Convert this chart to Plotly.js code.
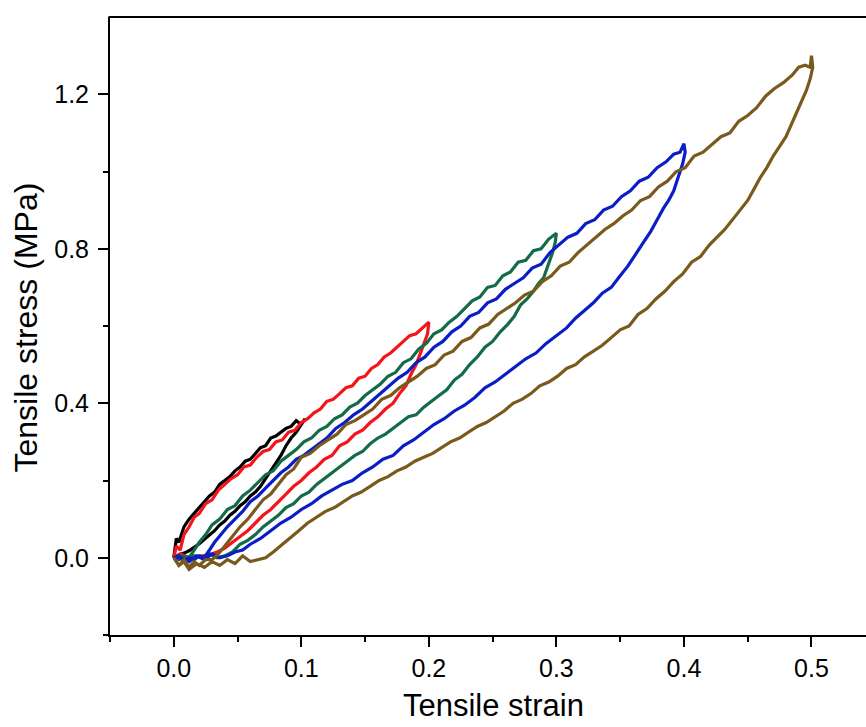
<!DOCTYPE html>
<html>
<head>
<meta charset="utf-8">
<script src="https://cdn.plot.ly/plotly-3.0.1.min.js"></script>
<style>html,body{margin:0;padding:0;background:#fff;}#chart{width:866px;height:727px;}</style>
</head>
<body>
<div id="chart"></div>
<script>
// ---- Data (strain, stress in MPa) ----
// Black loop (max strain 0.1): loading then unloading
const blackX = [0,0.002,0.004,0.008,0.012,0.016,0.020,0.024,0.028,0.032,0.036,0.040,0.044,0.048,0.052,0.056,0.060,0.064,0.068,0.072,0.076,0.080,0.084,0.088,0.092,0.096,0.100,0.103,
  0.100,0.096,0.092,0.088,0.084,0.080,0.076,0.072,0.068,0.064,0.060,0.056,0.052,0.048,0.044,0.040,0.036,0.032,0.028,0.024,0.020,0.016,0.012,0.008,0.004,0];
const blackY = [0,0.05,0.04,0.08,0.10,0.115,0.13,0.145,0.16,0.17,0.19,0.20,0.21,0.225,0.235,0.25,0.255,0.27,0.285,0.29,0.31,0.315,0.325,0.335,0.34,0.355,0.345,0.36,
  0.345,0.325,0.31,0.29,0.265,0.245,0.225,0.205,0.185,0.17,0.16,0.145,0.135,0.12,0.11,0.095,0.085,0.07,0.06,0.048,0.036,0.027,0.018,0.012,0.006,0.002];

// Red loop (max strain 0.2)
const redX = [0,0.002,0.005,0.008,0.012,0.016,0.020,0.025,0.030,0.035,0.040,0.045,0.050,0.055,0.060,0.065,0.070,0.075,0.080,0.085,0.090,0.095,0.100,0.105,0.110,0.115,0.120,0.125,0.130,0.135,0.140,0.145,0.150,0.155,0.160,0.165,0.170,0.175,0.180,0.185,0.190,0.195,0.200,
  0.199,0.197,0.194,0.190,0.186,0.182,0.177,0.172,0.166,0.160,0.154,0.148,0.142,0.136,0.130,0.124,0.118,0.112,0.106,0.100,0.094,0.088,0.082,0.076,0.070,0.064,0.058,0.052,0.046,0.040,0.034,0.028,0.020,0.012,0.005,0];
const redY = [0,0.03,0.02,0.06,0.08,0.105,0.115,0.14,0.15,0.175,0.19,0.205,0.215,0.235,0.24,0.26,0.275,0.28,0.30,0.305,0.325,0.33,0.35,0.36,0.375,0.385,0.405,0.41,0.425,0.44,0.445,0.465,0.47,0.49,0.50,0.52,0.53,0.545,0.56,0.575,0.58,0.595,0.61,
  0.58,0.56,0.535,0.50,0.475,0.445,0.425,0.40,0.385,0.365,0.35,0.33,0.32,0.30,0.29,0.265,0.255,0.235,0.22,0.20,0.185,0.165,0.145,0.125,0.11,0.09,0.07,0.055,0.04,0.025,0.015,0.008,0.004,0,0.01,0];

// Green loop (max strain 0.3)
const greenX = [0,0.004,0.008,0.012,0.016,0.020,0.025,0.030,0.036,0.042,0.048,0.054,0.060,0.066,0.072,0.078,0.084,0.090,0.096,0.102,0.108,0.114,0.120,0.126,0.132,0.138,0.144,0.150,0.156,0.162,0.168,0.174,0.180,0.186,0.192,0.198,0.204,0.210,0.216,0.222,0.228,0.234,0.240,0.246,0.252,0.258,0.264,0.270,0.276,0.282,0.288,0.294,0.300,
  0.299,0.297,0.294,0.290,0.286,0.282,0.277,0.272,0.267,0.262,0.256,0.250,0.244,0.238,0.232,0.226,0.220,0.214,0.208,0.202,0.196,0.190,0.184,0.178,0.172,0.166,0.160,0.154,0.148,0.142,0.136,0.130,0.124,0.118,0.112,0.106,0.100,0.094,0.088,0.082,0.076,0.070,0.064,0.058,0.052,0.046,0.040,0.034,0.028,0.022,0.016,0.010,0.004,0];
const greenY = [0,-0.005,0.005,0,0.02,0.04,0.06,0.085,0.10,0.125,0.135,0.16,0.175,0.195,0.215,0.225,0.25,0.265,0.28,0.30,0.31,0.33,0.34,0.36,0.37,0.39,0.40,0.42,0.435,0.45,0.47,0.48,0.505,0.515,0.54,0.555,0.58,0.59,0.61,0.625,0.645,0.665,0.675,0.70,0.705,0.73,0.74,0.765,0.77,0.795,0.80,0.825,0.84,
  0.815,0.79,0.76,0.725,0.71,0.69,0.67,0.655,0.625,0.605,0.585,0.56,0.545,0.52,0.50,0.475,0.46,0.435,0.42,0.405,0.39,0.37,0.365,0.35,0.335,0.32,0.31,0.295,0.275,0.265,0.25,0.235,0.22,0.205,0.19,0.17,0.16,0.14,0.13,0.11,0.095,0.08,0.06,0.045,0.035,0.015,0.005,0,0.01,0,0.005,-0.005,0.005,0];

// Blue loop (max strain 0.4)
const blueX = [0,0.004,0.008,0.012,0.016,0.020,0.024,0.028,0.032,0.037,0.042,0.048,0.054,0.060,0.066,0.072,0.078,0.084,0.090,0.096,0.102,0.108,0.114,0.120,0.127,0.134,0.141,0.148,0.155,0.162,0.169,0.176,0.183,0.190,0.197,0.204,0.211,0.218,0.225,0.232,0.239,0.246,0.253,0.260,0.267,0.274,0.281,0.288,0.295,0.302,0.309,0.316,0.323,0.330,0.337,0.344,0.351,0.358,0.365,0.372,0.379,0.386,0.392,0.397,0.400,
  0.401,0.399,0.396,0.392,0.388,0.384,0.379,0.374,0.368,0.362,0.356,0.350,0.343,0.336,0.329,0.322,0.315,0.308,0.300,0.292,0.284,0.276,0.268,0.260,0.252,0.244,0.236,0.228,0.220,0.212,0.204,0.196,0.188,0.180,0.172,0.164,0.156,0.148,0.140,0.132,0.124,0.116,0.108,0.100,0.092,0.084,0.076,0.068,0.060,0.054,0.048,0.042,0.036,0.030,0.024,0.018,0.012,0.006,0];
const blueY = [0,0.005,-0.01,0,-0.005,0.005,0,0.02,0.04,0.06,0.08,0.10,0.12,0.145,0.16,0.18,0.20,0.22,0.235,0.255,0.265,0.28,0.295,0.31,0.335,0.35,0.37,0.385,0.405,0.425,0.445,0.465,0.48,0.505,0.52,0.545,0.56,0.585,0.60,0.625,0.635,0.66,0.67,0.695,0.71,0.725,0.75,0.76,0.79,0.81,0.83,0.84,0.865,0.875,0.90,0.91,0.935,0.95,0.975,0.985,1.01,1.025,1.045,1.05,1.072,
  1.05,1.02,0.99,0.95,0.925,0.905,0.875,0.845,0.815,0.785,0.755,0.73,0.70,0.685,0.66,0.64,0.62,0.595,0.575,0.555,0.53,0.515,0.495,0.475,0.455,0.44,0.415,0.395,0.38,0.36,0.345,0.325,0.305,0.29,0.265,0.255,0.235,0.22,0.20,0.19,0.175,0.16,0.14,0.125,0.105,0.09,0.07,0.05,0.035,0.02,0.015,0.005,0,0.01,-0.005,0.005,-0.01,0,0];

// Brown loop (max strain 0.5)
const brownX = [0,0.004,0.008,0.012,0.016,0.020,0.025,0.030,0.035,0.040,0.046,0.052,0.058,0.064,0.070,0.076,0.082,0.088,0.094,0.100,0.107,0.114,0.121,0.128,0.135,0.142,0.149,0.156,0.163,0.170,0.177,0.184,0.191,0.198,0.205,0.212,0.219,0.226,0.233,0.240,0.247,0.254,0.261,0.268,0.275,0.282,0.289,0.296,0.303,0.310,0.317,0.324,0.331,0.338,0.345,0.352,0.359,0.366,0.373,0.380,0.387,0.394,0.401,0.408,0.415,0.422,0.429,0.436,0.443,0.450,0.457,0.464,0.471,0.478,0.485,0.490,0.495,0.499,0.500,
  0.501,0.499,0.496,0.492,0.488,0.484,0.480,0.475,0.470,0.465,0.460,0.455,0.450,0.444,0.438,0.432,0.426,0.420,0.413,0.406,0.399,0.392,0.385,0.378,0.371,0.364,0.357,0.350,0.343,0.336,0.329,0.322,0.315,0.308,0.301,0.294,0.287,0.280,0.273,0.266,0.259,0.252,0.245,0.238,0.231,0.224,0.217,0.210,0.203,0.196,0.189,0.182,0.175,0.168,0.161,0.154,0.147,0.140,0.133,0.126,0.119,0.112,0.105,0.098,0.091,0.084,0.078,0.072,0.066,0.060,0.054,0.048,0.042,0.036,0.030,0.024,0.018,0.012,0.008,0.004,0];
const brownY = [0,-0.02,-0.005,-0.025,-0.01,-0.02,-0.005,-0.005,0.01,0.03,0.055,0.08,0.10,0.125,0.15,0.165,0.19,0.215,0.23,0.26,0.27,0.29,0.305,0.32,0.345,0.355,0.37,0.385,0.41,0.42,0.44,0.455,0.47,0.49,0.50,0.525,0.535,0.56,0.57,0.595,0.605,0.63,0.645,0.66,0.68,0.69,0.715,0.73,0.755,0.765,0.79,0.81,0.83,0.85,0.865,0.885,0.90,0.925,0.935,0.96,0.975,1.00,1.01,1.04,1.05,1.07,1.09,1.10,1.13,1.145,1.165,1.195,1.215,1.23,1.25,1.27,1.275,1.27,1.30,
  1.27,1.24,1.21,1.18,1.15,1.12,1.09,1.065,1.04,1.01,0.985,0.955,0.925,0.90,0.875,0.85,0.83,0.81,0.78,0.765,0.735,0.715,0.69,0.67,0.645,0.63,0.60,0.59,0.57,0.55,0.535,0.52,0.50,0.49,0.47,0.455,0.445,0.425,0.41,0.40,0.38,0.365,0.35,0.34,0.325,0.31,0.30,0.285,0.27,0.26,0.25,0.235,0.225,0.21,0.20,0.185,0.17,0.16,0.145,0.13,0.12,0.105,0.09,0.07,0.05,0.03,0.015,0,-0.005,-0.01,0.005,-0.015,-0.005,-0.02,-0.01,-0.025,-0.015,-0.03,-0.01,-0.02,0];

const xTickVals = [0, 0.1, 0.2, 0.3, 0.4, 0.5];
const xTickText = ['0.0', '0.1', '0.2', '0.3', '0.4', '0.5'];
const yTickVals = [0, 0.4, 0.8, 1.2];
const yTickText = ['0.0', '0.4', '0.8', '1.2'];
const xTitle = 'Tensile strain';
const yTitle = 'Tensile stress (MPa)';

const series = [
  {x: blackX, y: blackY, color: '#000000'},
  {x: redX, y: redY, color: '#f5141a'},
  {x: greenX, y: greenY, color: '#136b47'},
  {x: blueX, y: blueY, color: '#0a1ec6'},
  {x: brownX, y: brownY, color: '#7a5a1c'}
];

const traces = series.map(s => ({
  type: 'scatter', mode: 'lines', x: s.x, y: s.y,
  line: {color: s.color, width: 3.2}, hoverinfo: 'skip', showlegend: false
}));

const FONT = 'Arial, "Liberation Sans", sans-serif';
const L = 110, R = 0, T = 17, B = 92, W = 866, H = 727;
const pw = W - L - R, ph = H - T - B;

const axisCommon = {
  showgrid: false, zeroline: false, showline: true, linecolor: '#000', linewidth: 2,
  ticks: 'outside', ticklen: 10, tickwidth: 2, tickcolor: '#000',
  tickfont: {family: FONT, size: 25, color: '#000'}, mirror: false, fixedrange: true
};

const layout = {
  width: W, height: H,
  margin: {l: L, r: R, t: T, b: B, pad: 0},
  paper_bgcolor: '#fff', plot_bgcolor: '#fff',
  xaxis: Object.assign({}, axisCommon, {
    range: [-0.05, -0.05 + pw / 1275.4],
    tickmode: 'array', tickvals: xTickVals, ticktext: xTickText,
    minor: {ticks: 'outside', ticklen: 5, tickwidth: 2, tickcolor: '#000', tickmode: 'array', tickvals: [-0.05, 0.05, 0.15, 0.25, 0.35, 0.45]},
    ticklabelstandoff: 0
  }),
  yaxis: Object.assign({}, axisCommon, {
    range: [-0.2, 1.4],
    tickmode: 'array', tickvals: yTickVals, ticktext: yTickText,
    minor: {ticks: 'outside', ticklen: 5, tickwidth: 2, tickcolor: '#000', tickmode: 'array', tickvals: [-0.2, 0.2, 0.6, 1.0]},
    ticklabelstandoff: 4
  }),
  shapes: [
    {type: 'line', xref: 'paper', yref: 'paper', x0: -0.002, x1: 1, y0: 1, y1: 1, line: {color: '#000', width: 2}}
  ],
  annotations: [
    {text: xTitle, xref: 'paper', yref: 'paper', x: (493 - L) / pw, y: (T + ph - 705) / ph,
     xanchor: 'center', yanchor: 'middle', showarrow: false, font: {family: FONT, size: 31, color: '#000'}},
    {text: yTitle, xref: 'paper', yref: 'paper', x: (25 - L) / pw, y: (T + ph - 327.5) / ph,
     xanchor: 'center', yanchor: 'middle', textangle: -90, showarrow: false, font: {family: FONT, size: 32, color: '#000'}}
  ]
};

Plotly.newPlot('chart', traces, layout, {staticPlot: true, displayModeBar: false});
</script>
</body>
</html>
